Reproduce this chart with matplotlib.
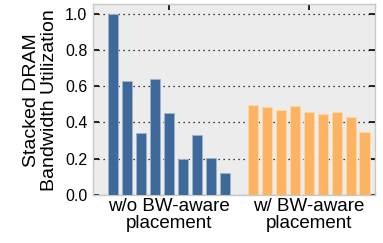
import numpy as np
import matplotlib.pyplot as plt

plt.rcParams['font.family'] = ['Liberation Sans', 'DejaVu Sans']

# bandwidth utilization, normalized
without_bw = [1.0, 0.63, 0.34, 0.637, 0.451, 0.197, 0.333, 0.204, 0.122]
with_bw = [0.494, 0.486, 0.468, 0.488, 0.459, 0.446, 0.457, 0.431, 0.346]
group_labels = ["w/o BW-aware\nplacement", "w/ BW-aware\nplacement"]
yticks = [0.0, 0.2, 0.4, 0.6, 0.8, 1.0]

x_wo = np.arange(len(without_bw))
x_w = np.arange(len(with_bw)) + len(without_bw) + 1

fig = plt.figure(figsize=(3.83, 2.43), dpi=100)
ax = fig.add_axes([93/383, 1 - 195/243, (375-93)/383, (195-4.5)/243])
ax.set_facecolor('#ececec')

ax.bar(x_wo, without_bw, width=0.72, color='#3d6a9b', edgecolor='#9fb3c9', linewidth=0.6, zorder=3)
ax.bar(x_w, with_bw, width=0.72, color='#fdb462', edgecolor='#fdd9a8', linewidth=0.6, zorder=3)

ax.set_xlim(-1.43, 18.75)
ax.set_ylim(0, 1.05)
ax.set_yticks(yticks)
ax.set_yticklabels([f"{v:.1f}" for v in yticks], fontsize=11.5)
ax.set_xticks([4, 14])
ax.set_xticklabels(group_labels, fontsize=13.5, linespacing=1.05)

ax.yaxis.grid(True, linestyle=(0, (1, 3)), color='black', linewidth=0.9, zorder=1)
ax.tick_params(axis='both', direction='in', length=4.5, width=1.2,
               top=True, right=True, colors='black')
ax.tick_params(axis='y', pad=4)
ax.tick_params(axis='x', pad=2)
for s in ax.spines.values():
    s.set_color('#c8c8c8')
    s.set_linewidth(1)

ax.set_ylabel("Stacked DRAM\nBandwidth Utilization", fontsize=14, labelpad=5, linespacing=1.05)

fig.savefig("out.png", dpi=100)
